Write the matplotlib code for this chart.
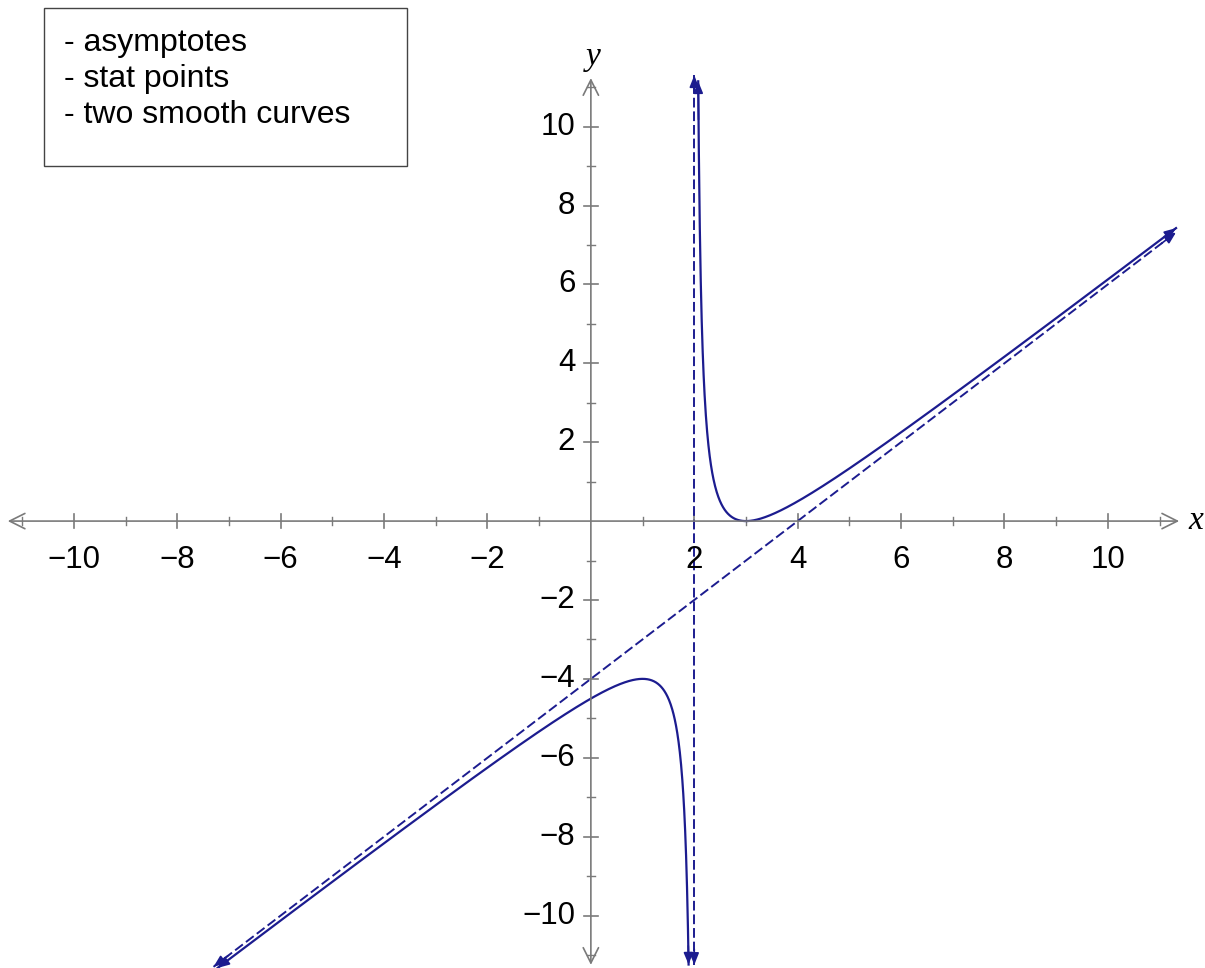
import numpy as np
import matplotlib.pyplot as plt

# y = (x - 3)^2 / (x - 2) = x - 4 + 1/(x - 2)
numerator_roots = [3, 3]
vertical_asymptote = 2
oblique_slope = 1
oblique_intercept = -4
stat_points_x = [1, 3]

# drawn range of each piece
left_branch_x = [-7.22, 1.8905]
right_branch_x = [2.0765, 11.32]
oblique_x = [-7.3, 11.32]
vertical_y = [-11.25, 11.3]

major_ticks = [-10, -8, -6, -4, -2, 2, 4, 6, 8, 10]
minor_ticks = [-11, -9, -7, -5, -3, -1, 1, 3, 5, 7, 9, 11]
notes = ["- asymptotes", "- stat points", "- two smooth curves"]

navy = "#1c1c8f"
grey = "#7a7a7a"


def f(x):
    return (x - numerator_roots[0]) * (x - numerator_roots[1]) / (x - vertical_asymptote)


fig = plt.figure(figsize=(12.05, 9.68), dpi=100)
ax = fig.add_axes([0, 0, 1, 1])
ax.set_xlim(-11.43, 11.88)
ax.set_ylim(-11.33, 13.21)
ax.axis("off")

# coordinate axes with open arrowheads
axis_arrow = dict(arrowstyle="<->,head_length=1.1,head_width=0.55", color=grey, lw=1.2,
                  shrinkA=0, shrinkB=0)
ax.annotate("", xy=(11.38, 0), xytext=(-11.28, 0), arrowprops=axis_arrow)
ax.annotate("", xy=(0, 11.23), xytext=(0, -11.25), arrowprops=axis_arrow)

font = ["Liberation Sans", "DejaVu Sans"]
for t in major_ticks:
    ax.plot([t, t], [-0.18, 0.18], color=grey, lw=1.2)
    ax.plot([-0.14, 0.14], [t, t], color=grey, lw=1.2)
    lab = str(t).replace("-", "\u2212")
    ax.text(t, -0.98, lab, ha="center", va="center", fontsize=22.5, family=font)
    ax.text(-0.3, t, lab, ha="right", va="center", fontsize=22.5, family=font)
for t in minor_ticks:
    ax.plot([t, t], [-0.1, 0.1], color=grey, lw=1.0)
    ax.plot([-0.08, 0.08], [t, t], color=grey, lw=1.0)

serif = ["Liberation Serif", "DejaVu Serif"]
ax.text(11.55, 0, "x", ha="left", va="center", fontsize=24, style="italic", family=serif)
ax.text(0.05, 11.78, "y", ha="center", va="center", fontsize=24, style="italic", family=serif)

head = dict(arrowstyle="-|>,head_length=0.7,head_width=0.28", color=navy, lw=1.2,
            shrinkA=0, shrinkB=0)

# asymptotes
ox = np.linspace(oblique_x[0], oblique_x[1], 200)
oy = oblique_slope * ox + oblique_intercept
ax.plot(ox, oy, color=navy, lw=1.4, dashes=(5, 2))
for a, b in [(3, 0), (-4, -1)]:
    ax.annotate("", xy=(ox[b], oy[b]), xytext=(ox[a], oy[a]), arrowprops=head)
ax.plot([vertical_asymptote, vertical_asymptote], vertical_y, color=navy, lw=1.4,
        dashes=(5, 2))
for a, b in [(vertical_y[0] + 0.4, vertical_y[0]), (vertical_y[1] - 0.4, vertical_y[1])]:
    ax.annotate("", xy=(vertical_asymptote, b), xytext=(vertical_asymptote, a),
                arrowprops=head)

# the two branches of the curve
for lo, hi in [left_branch_x, right_branch_x]:
    xs = np.linspace(lo, hi, 1500)
    ys = f(xs)
    ax.plot(xs, ys, color=navy, lw=1.6)
    for a, b in [(1, 0), (-2, -1)]:
        ax.annotate("", xy=(xs[b], ys[b]), xytext=(xs[a], ys[a]), arrowprops=head)

# note box in the corner
box = plt.Rectangle((44 / 1205, 1 - 166 / 968), (407 - 44) / 1205, (166 - 8) / 968,
                    transform=fig.transFigure, fill=False, ec="#444444", lw=1.0)
fig.patches.append(box)
for i, line in enumerate(notes):
    fig.text(64 / 1205, 1 - (43 + 36 * i) / 968, line, ha="left", va="center",
             fontsize=23, family=font)

fig.savefig("out.png", dpi=100)
